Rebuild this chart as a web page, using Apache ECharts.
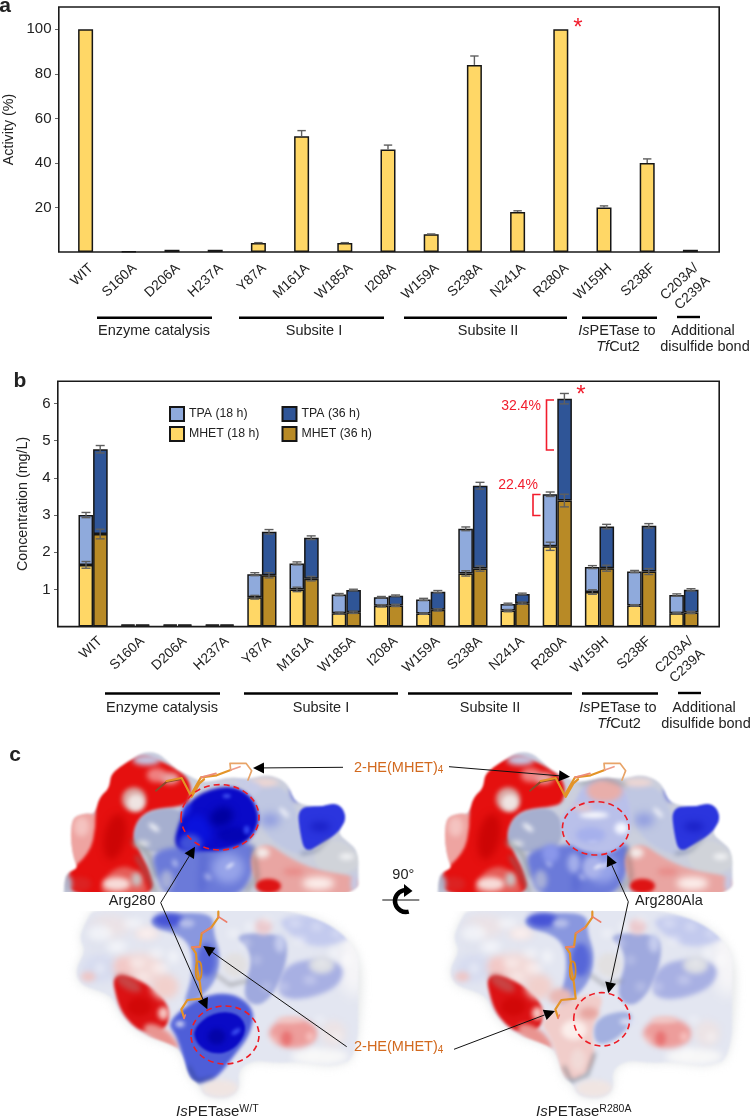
<!DOCTYPE html>
<html><head><meta charset="utf-8">
<style>html,body{margin:0;padding:0;background:#fff}#c{width:750px;height:1118px}</style>
<script src="https://cdn.jsdelivr.net/npm/echarts@6/dist/echarts.min.js"></script>
</head><body><div id="c"></div>
<script>
// ---- data ----
const categoriesA = ['WIT','S160A','D206A','H237A','Y87A','M161A','W185A','I208A','W159A','S238A','N241A','R280A','W159H','S238F','C203A/\nC239A'];
const activity    = [100,0.3,1,1,4,52,4,46,8,84,18,100,20,40,1];
const activityErr = [0,0,0,0,0.2,2.5,0.2,2,0.1,4,0.5,0,0.7,1.8,0];
const mhet18 = [1.66,0.03,0.03,0.03,0.79,1.00,0.36,0.56,0.35,1.43,0.43,2.16,0.93,0.57,0.36];
const tpa18  = [1.34,0.03,0.03,0.03,0.62,0.70,0.50,0.23,0.38,1.20,0.18,1.40,0.67,0.91,0.49];
const mhet36 = [2.49,0.03,0.03,0.03,1.38,1.29,0.385,0.57,0.45,1.56,0.63,3.39,1.57,1.48,0.38];
const tpa36  = [2.28,0.03,0.03,0.03,1.17,1.10,0.60,0.26,0.49,2.23,0.25,2.74,1.12,1.23,0.61];
const errM18 = [0.09,0,0,0,0.05,0.06,0.03,0.03,0.02,0.07,0.03,0.11,0.06,0.02,0.02];
const errT18 = [0.07,0,0,0,0.04,0.04,0.03,0.02,0.03,0.05,0.02,0.06,0.04,0.03,0.03];
const errM36 = [0.13,0,0,0,0.07,0.06,0.03,0.03,0.03,0.07,0.03,0.17,0.08,0.08,0.03];
const errT36 = [0.10,0,0,0,0.06,0.05,0.02,0.02,0.03,0.09,0.02,0.14,0.06,0.06,0.03];
const seriesNames = ['MHET (18 h)','TPA (18 h)','MHET (36 h)','TPA (36 h)'];

// ---- style ----
const FF='"Liberation Sans",Arial,sans-serif', INK='#222', EDGE='#161616';
const YEL='#FFD766', LBL='#8FAADC', DBL='#2F5597', BRN='#B88A26', RED='#F21C2C', ORG='#D2691E', ERR='#5f5f5f';

function total(a,b){return a.map((v,i)=>+(v+b[i]).toFixed(3));}
function errData(tops,errs,both){
  const out=[];errs.forEach((e,i)=>{if(e>0)out.push([i,both?tops[i]-e:tops[i],tops[i]+e]);});return out;
}
function errSeries(axis,data,dx,capW){
  return {type:'custom',xAxisIndex:axis,yAxisIndex:axis,data:data,z:5,clip:false,silent:true,
    encode:{x:0,y:2},
    renderItem:function(p,api){
      const lo=api.coord([api.value(0),api.value(1)]),hi=api.coord([api.value(0),api.value(2)]);
      const x=lo[0]+dx,s={stroke:ERR,lineWidth:1.4,fill:null};
      const kids=[{type:'line',shape:{x1:x,y1:lo[1],x2:x,y2:hi[1]},style:s},
                  {type:'line',shape:{x1:x-capW,y1:hi[1],x2:x+capW,y2:hi[1]},style:s}];
      if(axis===1)kids.push({type:'line',shape:{x1:x-capW,y1:lo[1],x2:x+capW,y2:lo[1]},style:s});
      return {type:'group',children:kids};
    }};
}
function barS(name,data,color,stack){
  return {type:'bar',name:name,stack:stack,xAxisIndex:1,yAxisIndex:1,data:data,barWidth:14.6,barGap:'0%',
    itemStyle:{color:color,borderColor:EDGE,borderWidth:1.5},z:3};
}
const axisLabelCommon={color:INK,fontFamily:FF};
function xAxisDef(grid){
  return {type:'category',gridIndex:grid,data:categoriesA,axisTick:{show:false},axisLine:{show:false},
    axisLabel:Object.assign({rotate:43,fontSize:13.8,margin:grid?5:8,interval:0,lineHeight:17,verticalAlign:'top',padding:[grid?2:0,0,0,0]},axisLabelCommon)};
}
function yAxisDef(grid,max,interval,name,offset,gap){
  return {type:'value',gridIndex:grid,min:0,max:max,interval:interval,offset:offset,name:name,nameLocation:'middle',nameGap:gap,
    nameTextStyle:{color:INK,fontFamily:FF,fontSize:14.3},splitLine:{show:false},axisLine:{show:false},
    axisTick:{show:true,length:4,lineStyle:{color:'#666',width:1}},
    axisLabel:Object.assign({fontSize:15,margin:7.5,showMinLabel:false,showMaxLabel:false},axisLabelCommon)};
}

// ---- graphic helpers ----
function T(x,y,text,o){
  return {type:'text',x:x,y:y,silent:true,z:20,style:Object.assign({text:text,fontFamily:FF,fontSize:14.5,fill:INK,align:'center',verticalAlign:'middle'},o||{})};
}
function bar(x1,x2,y){return {type:'line',silent:true,z:20,shape:{x1:x1,y1:y,x2:x2,y2:y},style:{stroke:'#000',lineWidth:2.4}};}
function frame(x,y,w,h){return {type:'rect',silent:true,z:10,shape:{x:x,y:y,width:w,height:h},style:{fill:'none',stroke:'#1a1a1a',lineWidth:1.6}};}
function arrow(x1,y1,x2,y2){
  const a=Math.atan2(y2-y1,x2-x1),L=11,W=5.5,bx=x2-L*Math.cos(a),by=y2-L*Math.sin(a),nx=-Math.sin(a),ny=Math.cos(a);
  return [{type:'line',silent:true,z:20,shape:{x1:x1,y1:y1,x2:bx,y2:by},style:{stroke:'#111',lineWidth:1}},
          {type:'polygon',silent:true,z:20,shape:{points:[[x2,y2],[bx+nx*W,by+ny*W],[bx-nx*W,by-ny*W]]},style:{fill:'#000'}}];
}
function ring(cx,cy,rx,ry){return {type:'ellipse',silent:true,z:20,shape:{cx:cx,cy:cy,rx:rx,ry:ry},style:{fill:'none',stroke:'#EE1C25',lineWidth:1.6,lineDash:[6,4]}};}
function bracket(x0,x1,y0,y1){return {type:'polyline',silent:true,z:20,shape:{points:[[x1,y0],[x0,y0],[x0,y1],[x1,y1]]},style:{fill:'none',stroke:RED,lineWidth:1.6}};}
const hetRich={s:{fontSize:10,fill:ORG,fontFamily:FF,verticalAlign:'bottom',padding:[6,0,0,0]},b:{fontSize:14.5,fill:ORG,fontFamily:FF}};
function het(x,y){return T(x,y,'{b|2-HE(MHET)}{s|4}',{rich:hetRich,align:'left'});}
const isRich={i:{fontStyle:'italic',fontSize:15,fontFamily:FF,fill:INK},n:{fontSize:15,fontFamily:FF,fill:INK},u:{fontSize:10.5,fontFamily:FF,fill:INK,padding:[0,0,6,0]}};
function isLab(x,y,sup){return T(x,y,'{i|Is}{n|PETase}{u|'+sup+'}',{rich:isRich,align:'left'});}

// ---- surface painting (illustration of panel c; coordinates are zoomed units, 3 per px) ----
function paintSurfaces(){
  const cv=document.createElement('canvas');cv.width=750;cv.height=378;
  let g=cv.getContext('2d');
  const OY=720,CY=740;
  function path(pts,closed){
    g.beginPath();const n=pts.length;
    if(closed){
      let m=[(pts[n-1][0]+pts[0][0])/2,(pts[n-1][1]+pts[0][1])/2];g.moveTo(m[0],m[1]);
      for(let i=0;i<n;i++){const q=pts[(i+1)%n];g.quadraticCurveTo(pts[i][0],pts[i][1],(pts[i][0]+q[0])/2,(pts[i][1]+q[1])/2);}
      g.closePath();
    }else{g.moveTo(pts[0][0],pts[0][1]);for(let i=1;i<n;i++)g.lineTo(pts[i][0],pts[i][1]);}
  }
  const bf=b=>b?`blur(${(b*0.7).toFixed(2)}px)`:'none';
  const P=(pts,c,b)=>{g.filter=bf(b);g.fillStyle=c;path(pts,true);g.fill();g.filter='none';};
  const E=(x,y,rx,ry,c,b,rot)=>{g.filter=bf(b);g.fillStyle=c;g.beginPath();g.ellipse(x,y,rx,ry,rot||0,0,7);g.fill();g.filter='none';};
  const L=(pts,c,w,b)=>{g.filter=bf(b);g.strokeStyle=c;g.lineWidth=w;g.lineJoin='round';g.lineCap='round';path(pts,false);g.stroke();g.filter='none';};
  const TOPSIL=[[190,560],[192,490],[200,458],[235,445],[222,420],[212,365],[214,310],[225,288],[258,280],[285,282],[298,232],[328,205],[332,165],[360,140],[395,118],[425,98],[470,96],[505,125],[530,150],[565,165],[610,190],[690,170],[745,178],[800,163],[845,178],[868,200],[885,250],[960,262],[1000,248],[1028,262],[1040,300],[1012,338],[1040,362],[1078,395],[1085,560]];
  const BOTSIL=[[285,560],[1090,560],[1080,1010],[1000,1042],[905,1025],[830,1030],[762,1020],[712,1050],[722,1110],[680,1138],[610,1130],[596,1090],[566,1075],[548,1000],[520,975],[420,942],[360,885],[338,830],[300,815],[240,795],[225,750],[258,690],[236,655],[260,600]];
  function top(mut){
    g.save();g.beginPath();g.rect(190,0,885,525);g.clip();
    path(TOPSIL,true);g.clip();
    g.fillStyle='#cbcfdd';g.fillRect(150,50,950,500);
    // red side
    P([[200,280],[290,270],[310,345],[295,400],[250,445],[185,470]],'#eea4a1',2);
    E(245,320,22,30,'#f4c3c0',4);
    P([[285,240],[330,150],[420,100],[480,120],[572,172],[572,250],[520,262],[432,272],[395,340],[420,400],[448,450],[468,530],[225,530],[190,470],[270,400],[288,320]],'#e5100f',1.5);
    E(345,350,32,70,'#cc0505',5,0.2);
    E(440,120,42,16,'#c3c6e2',4);E(470,165,30,22,'#ef8181',4);E(510,175,28,18,'#e7a7a7',4);
    E(402,238,36,36,'#d9a6a2',3);E(408,248,26,26,'#efe4e2',3);
    P([[350,440],[400,440],[445,500],[440,530],[300,530],[310,480]],'#e65d58',3);
    E(350,492,42,20,'#f7dcd9',4);E(410,478,16,22,'#c9c2c2',4);
    E(240,492,34,22,'#dc2222',3);E(204,492,12,28,'#aeb4ca',3);
    L([[410,410],[440,460],[465,515]],'#7c7c7c',7,4);
    // blue-grey lobe
    P([[394,360],[420,282],[520,258],[566,298],[560,382],[480,400],[425,388]],'#a6afcf',1.5);
    E(462,322,20,7,'rgba(255,255,255,.9)',3,0.65);E(425,372,24,10,'#e7e8ea',4);
    L([[398,362],[445,402],[470,470]],'#666d68',6,4);
    // lower mid blue
    P([[452,394],[560,376],[760,358],[772,420],[728,530],[615,530],[500,530],[470,470]],'#6b7ad9',3);
    E(685,445,48,44,'#97a4e9',6);E(690,437,14,4,'#f0f3ff',2,-0.6);
    E(525,430,12,6,'#c6cef4',3,1.2);E(622,470,12,6,'#ccd3f6',3,0.7);E(500,480,20,30,'#a7afd8',4);
    L([[610,400],[605,512]],'#4655cc',8,5);
    // right grey-blue ridge
    P([[745,186],[855,200],[888,265],[908,345],[955,402],[880,405],[792,345],[768,255]],'#bfc7e2',2);
    E(790,188,44,12,'#efd6d2',4);E(852,278,20,7,'rgba(255,255,255,.8)',3,0.8);E(885,222,11,24,'#3f4dd6',3,-0.3);E(810,300,30,20,'#8f9ce0',6);
    // strong blue right
    P([[892,262],[960,258],[1024,248],[1042,300],[1010,342],[960,374],[915,398],[900,340]],'#2b35de',1);
    E(960,320,30,14,'#1a20c6',5);
    // grey right
    P([[940,392],[1002,352],[1080,400],[1080,445],[1000,472],[945,438]],'#d0d3d9',2);E(1040,410,22,8,'rgba(255,255,255,.9)',4);
    L([[905,402],[950,392],[985,355]],'#5c6680',4,3);
    // pink lower
    P([[748,400],[800,366],[865,412],[950,452],[1085,470],[1085,530],[790,530],[758,470]],'#e9a5a2',2);
    E(955,490,48,20,'#fbefec',5);E(785,398,24,16,'#f3ebe9',4);E(1064,490,12,30,'#c4cae6',3);E(880,455,30,12,'#e88d8a',4);
    E(805,498,38,22,'#de1414',2);
    L([[760,382],[772,470],[738,514]],'#666',5,4);
    mut(P,E,L);
    g.restore();
  }
  function topSticks(){
    const S=(pts,c,w)=>L(pts,c,w,0);
    S([[468,212],[500,185],[548,176]],'#8a4a2a',6);
    S([[500,183],[545,174],[572,226],[603,172],[650,166],[692,150]],'#E39427',6.5);
    S([[575,230],[598,190],[612,178]],'#E39427',7);
    S([[603,172],[648,160]],'#ED8C7A',5);
    S([[692,150],[690,130],[738,130],[755,152],[744,180]],'#E8A468',5);
    S([[692,150],[720,140]],'#EE9C8A',5);
  }
  const bumps=[[300,640,38,24],[350,680,30,18],[400,610,30,14],[440,640,26,12],[470,700,22,12],[410,730,24,10],[480,745,26,12],[430,770,20,8],[300,745,12,14],[520,710,16,20],[750,620,14,12],[700,640,18,10],[735,670,14,10],[800,600,16,8],[885,610,20,8],[900,660,18,10],[950,620,14,8],[1010,640,14,8],[965,730,12,7],[930,780,18,8],[1000,700,12,18],[800,800,12,8],[770,720,10,8],[850,800,14,7],[1040,720,12,22],[820,960,12,8],[960,900,14,8],[1010,950,12,12],[940,1000,20,8]];
  function bottom(mut){
    g.save();
    g.filter='blur(5px)';g.fillStyle='rgba(222,224,226,0.85)';path(BOTSIL,true);g.fill();g.filter='none';
    g.beginPath();g.rect(190,565,885,575);g.clip();
    path(BOTSIL,true);g.clip();
    g.fillStyle='#e3e6f1';g.fillRect(190,565,885,575);
    E(960,1010,85,26,'#f7f7f7',5);E(1060,700,44,130,'#f6f5f7',10);
    // left pink-white
    E(420,750,72,50,'#f3dad8',6);E(330,620,60,34,'#ebe2e6',6);E(440,640,36,18,'#f6e2e0',5);E(300,745,56,42,'#d6dbef',6);E(265,770,22,15,'#eec6c6',4);
    E(290,650,34,40,'#dfe2ee',5);E(370,740,30,30,'#f2c8c6',5);
    // red
    P([[335,762],[420,775],[505,845],[508,910],[475,940],[420,935],[372,890],[350,840]],'#dc1214',1.5);
    P([[440,905],[500,925],[548,990],[500,980],[425,938]],'#e99490',3);
    E(385,790,42,18,'#c94444',4,0.55);E(495,800,40,38,'#f1d0cc',5);E(490,880,16,20,'#f6c4c0',3);E(418,860,36,28,'#d10808',4);
    // blue centre
    P([[450,586],[640,574],[640,640],[662,700],[650,780],[600,835],[545,862],[578,770],[575,680],[530,640],[458,625]],'#8997df',2);
    E(505,600,44,22,'#4754d6',4);E(620,720,28,50,'#5666d8',4);E(560,610,24,12,'#b8c0ea',3);
    // right blue-grey
    P([[690,640],[850,640],[866,700],[836,800],[780,864],[722,832],[765,700]],'#9fa9de',2);
    E(790,620,26,24,'#ebc9cd',4);E(705,735,36,36,'#e2e0e1',3);
    L([[650,765],[690,795],[742,782]],'#666',4,3);
    E(840,670,16,28,'#c6cdee',4);
    P([[860,720],[1032,718],[1024,800],[900,844],[822,822]],'#a8b0e3',3);
    E(965,735,38,26,'#dcdee4',4);
    P([[830,585],[1080,585],[1080,640],[960,692],[860,640]],'#c3caee',4);
    E(1040,600,40,14,'#f2f3fb',4);
    E(880,940,72,44,'#ed9d9b',4);E(860,955,16,22,'#e87373',3);E(930,950,12,14,'#f7bfbc',3);E(870,900,40,10,'#f1c8c6',3);
    E(1000,940,38,38,'#ece3e5',5);
    bumps.forEach(b=>E(b[0],b[1],b[2],b[3],'rgba(255,255,255,0.55)',5));
    mut(P,E,L);
    E(660,1105,55,26,'#f0e5e2',4);
    g.restore();
  }
  function botSticks(){
    const S=(pts,c,w)=>L(pts,c,w,0);
    S([[552,892],[544,868],[562,840],[605,836],[600,790],[592,750],[588,700],[576,682],[600,680],[605,640],[634,622],[655,592],[655,575]],'#E39427',6.5);
    g.strokeStyle='#D98B22';g.lineWidth=5;g.beginPath();g.ellipse(596,752,9,28,0,0,7);g.stroke();
    S([[655,590],[680,606]],'#EC7F6C',5);S([[606,640],[632,622]],'#EC7F6C',5);S([[576,682],[600,680]],'#EC7F6C',5);
    S([[556,885],[552,895]],'#EC7F6C',5);
  }
  const mutTopW=(P,E,L)=>{
    P([[515,385],[545,285],[585,225],[680,194],[752,220],[784,300],[748,365],[660,394],[590,392]],'#0a0ac8',2);
    E(590,335,44,50,'#0a12dc',5);E(700,345,48,24,'#0404b4',4);E(665,290,36,28,'#0000a0',5,-0.4);
    E(680,228,12,6,'#4456f4',2);E(740,330,9,13,'#3346f2',2);E(560,270,10,22,'#1d2ae4',3,0.5);
    E(570,370,34,28,'#4050d8',4);
    P([[700,172],[745,176],[790,198],[770,232],[722,200]],'#c6cbe7',3);
  };
  const mutTopA=(P,E,L)=>{
    P([[550,300],[600,255],[625,195],[690,165],[752,195],[776,280],[766,350],[716,408],[590,388]],'#b9c0ea',2);
    E(692,212,54,34,'#e8aeaa',4);E(660,285,44,9,'rgba(255,255,255,.95)',3);E(742,325,20,18,'#f4f6ff',3);
    E(655,360,14,5,'#fff',2);E(625,262,30,10,'#e6c6c8',4);E(650,345,44,24,'#a6b0ec',4);
    L([[620,192],[680,170],[755,195]],'#6f7c78',5,4);
    E(655,442,30,34,'#aab3ea',4);E(672,440,14,4,'#fff',2,-0.5);E(530,400,26,28,'#8a97ea',4);
    E(600,430,20,30,'#a3aeea',4);
  };
  const mutBotW=(P,E,L)=>{
    P([[500,905],[600,828],[700,816],[767,870],[747,950],[707,1000],[652,1074],[600,1094],[566,1074],[546,1000],[528,945]],'#4e5ed8',2);
    P([[578,925],[640,876],[715,878],[744,930],[702,992],[640,1004],[590,974]],'#0a0ac6',1);
    E(650,950,26,24,'#0404a8',3);E(708,935,15,7,'#3f52f2',2,-0.6);
    L([[565,1040],[590,1085],[640,1075]],'#2c3c78',5,3);
    E(540,912,13,7,'#fff',3);
  };
  const mutBotA=(P,E,L)=>{
    P([[495,905],[600,830],[700,818],[650,925],[665,1010],[640,1062],[590,1084],[560,1060],[548,1000],[525,945]],'#f1cdca',2);
    E(600,930,38,30,'#fbeeeb',4);E(645,880,28,18,'#e7a5a0',4);E(612,1020,22,34,'#f1dad7',4);E(560,830,36,26,'#e9b9b5',4);
    P([[660,895],[760,868],[782,900],[722,964],[660,977]],'#a3b0e0',2);
    L([[570,1040],[592,1085],[640,1066],[662,1000]],'#535b68',5,3);
    E(760,905,24,9,'#dfe3f4',3);
  };
  g.setTransform(1/3,0,0,1/3,0,(OY-CY));top(mutTopW);
  g.setTransform(1/3,0,0,1/3,0,(OY-CY));bottom(mutBotW);
  g.setTransform(1/3,0,0,1/3,374,(OY-CY));top(mutTopA);
  g.setTransform(1/3,0,0,1/3,374,(OY-CY));bottom(mutBotA);
  // soften everything, restore the white seam, then draw the sharp ligand sticks on top
  const out=document.createElement('canvas');out.width=750;out.height=378;
  const h=out.getContext('2d');h.filter='blur(0.9px)';h.drawImage(cv,0,0);h.filter='none';
  h.fillStyle='#fff';h.fillRect(0,892-CY,750,19);
  g=h;
  [0,374].forEach(dx=>{
    g.setTransform(1/3,0,0,1/3,dx,(OY-CY));topSticks();
    g.setTransform(1/3,0,0,1/3,dx,(OY-CY));botSticks();
  });
  return out;
}

const g=[];
g.push({type:'image',silent:true,z:1,x:0,y:740,style:{image:paintSurfaces(),x:0,y:0,width:750,height:378}});
g.push(frame(58.8,7,660.4,245),frame(57.8,381.2,661.4,245.4));
g.push(T(5,6,'a',{fontWeight:'bold',fontSize:21}),T(20,381,'b',{fontWeight:'bold',fontSize:21}),T(15,755,'c',{fontWeight:'bold',fontSize:21}));
const ri={i:{fontStyle:'italic',fontSize:14.5,fontFamily:FF,fill:INK},n:{fontSize:14.5,fontFamily:FF,fill:INK}};
// panel a group bars
g.push(bar(97,212,317.7),bar(239,384,317.7),bar(404,567,317.7),bar(582,657,317.7),bar(677,700,317));
g.push(T(154,331,'Enzyme catalysis'),T(314,331,'Subsite I'),T(488,331,'Subsite II'));
g.push(T(617,331,'{i|Is}{n|PETase to}',{rich:ri}));
g.push(T(618,347,'{i|Tf}{n|Cut2}',{rich:ri}));
g.push(T(703,331,'Additional'),T(705,347,'disulfide bond'));
g.push(T(578,28,'*',{fill:RED,fontSize:24}));
// panel b group bars
g.push(bar(105,220,693.5),bar(244,398,693.5),bar(408,572,693.5),bar(582,658,693.5),bar(678,701,693));
g.push(T(162,708,'Enzyme catalysis'),T(321,708,'Subsite I'),T(490,708,'Subsite II'));
g.push(T(618,708,'{i|Is}{n|PETase to}',{rich:ri}));
g.push(T(619,724,'{i|Tf}{n|Cut2}',{rich:ri}));
g.push(T(704,708,'Additional'),T(706,724,'disulfide bond'));
g.push(T(581,395,'*',{fill:RED,fontSize:24}));
g.push(T(521,406,'32.4%',{fill:RED,fontSize:14}),T(518,485,'22.4%',{fill:RED,fontSize:14}));
g.push(bracket(546.5,554,400,450),bracket(533,540.5,494.5,515.5));
// panel c annotations
g.push(ring(220,817.3,39,32.7),ring(595.7,828.3,33.3,26.7),ring(225,1035,34,29),ring(601.7,1019.3,28,26.7));
g.push(het(354,767.5),het(354,1047));
g.push(...arrow(343,767.3,253,768),...arrow(449,766.7,570,776.7));
g.push(...arrow(346.7,1046.7,203.3,946),...arrow(454,1049.3,555,1011));
g.push(T(155.5,901,'Arg280',{align:'right'}),T(635,901,'Arg280Ala',{align:'left'}));
g.push(...arrow(160.7,902.7,195,846.7),...arrow(160.7,902.7,207.3,1009.3));
g.push(...arrow(628.3,901.7,607.3,855),...arrow(628.3,901.7,608.3,993.3));
g.push(T(403.3,875,'90°'));
g.push({type:'line',silent:true,z:20,shape:{x1:382.3,y1:900,x2:419.3,y2:900},style:{stroke:'#111',lineWidth:1}});
g.push({type:'arc',silent:true,z:20,shape:{cx:406,cy:901,r:11,startAngle:Math.PI*0.42,endAngle:Math.PI*1.55,clockwise:true},style:{stroke:'#000',lineWidth:4.5,fill:'none'}});
g.push({type:'polygon',silent:true,z:20,shape:{points:[[404,884],[412.5,891],[404,897]]},style:{fill:'#000'}});
g.push(isLab(176,1112,'W/T'),isLab(536,1112,'R280A'));

const total18=total(mhet18,tpa18), total36=total(mhet36,tpa36);
const legendCommon={orient:'vertical',top:406,padding:0,itemWidth:14,itemHeight:14,itemGap:4,icon:'rect',selectedMode:false,textStyle:{fontSize:12.3,fontFamily:FF,color:INK}};
const option={
  animation:false,backgroundColor:'#fff',
  grid:[{left:64,top:7,width:648,height:245,outerBoundsMode:'none'},{left:72,top:381.2,width:633,height:245.4,outerBoundsMode:'none'}],
  xAxis:[xAxisDef(0),xAxisDef(1)],
  yAxis:[yAxisDef(0,110,20,'Activity (%)',5,43),yAxisDef(1,6.6,1,'Concentration (mg/L)',14,28)],
  legend:[
    Object.assign({data:['TPA (18 h)','MHET (18 h)'],left:169},legendCommon),
    Object.assign({data:['TPA (36 h)','MHET (36 h)'],left:281.5},legendCommon)
  ],
  series:[
    {type:'bar',name:'Activity',xAxisIndex:0,yAxisIndex:0,data:activity,barWidth:15,itemStyle:{color:YEL,borderColor:EDGE,borderWidth:1.5},z:3},
    errSeries(0,errData(activity,activityErr,false),0,4.2),
    barS(seriesNames[0],mhet18,YEL,'h18'),barS(seriesNames[1],tpa18,LBL,'h18'),
    barS(seriesNames[2],mhet36,BRN,'h36'),barS(seriesNames[3],tpa36,DBL,'h36'),
    errSeries(1,errData(mhet18,errM18,true),-7.1,4.5),errSeries(1,errData(total18,errT18,true),-7.1,4.5),
    errSeries(1,errData(mhet36,errM36,true),7.1,4.5),errSeries(1,errData(total36,errT36,true),7.1,4.5)
  ],
  graphic:{elements:g}
};
echarts.init(document.getElementById('c'),null,{renderer:'canvas'}).setOption(option);
</script></body></html>
